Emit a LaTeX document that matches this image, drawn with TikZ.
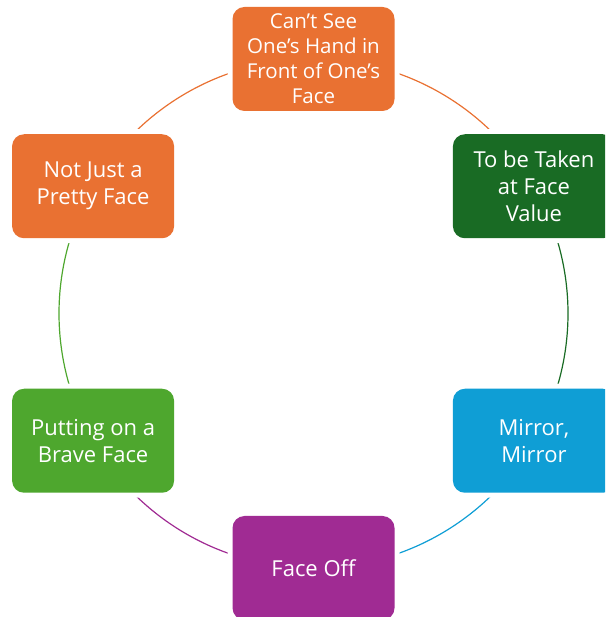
\documentclass[tikz,border=0pt]{standalone}
\usepackage{fontspec}
\setmainfont{Open Sans}
\definecolor{cOrange}{HTML}{E97132}
\definecolor{cDkGreen}{HTML}{196B24}
\definecolor{cBlue}{HTML}{0F9ED5}
\definecolor{cPurple}{HTML}{A02B93}
\definecolor{cGreen}{HTML}{4EA72E}
\tikzset{
  facebox/.style={rounded corners=12pt, minimum width=162pt, minimum height=104pt,
    inner sep=0pt, text=white, align=center, font=\fontsize{22}{27}\selectfont,
    preaction={draw=white, line width=10pt}},
  ring/.style={line width=1.2pt}
}
\begin{document}
\begin{tikzpicture}[x=1pt,y=1pt]
\useasboundingbox (0,0) rectangle (605,617);
\clip (0,0) rectangle (605,617);
\coordinate (c) at (313.5,303.5);
% arcs
\draw[ring,cOrange] (c) ++(90:254.5pt) arc[start angle=90,end angle=30,radius=254.5pt];
\draw[ring,cDkGreen] (c) ++(30:254.5pt) arc[start angle=30,end angle=-30,radius=254.5pt];
\draw[ring,cBlue] (c) ++(-30:254.5pt) arc[start angle=-30,end angle=-90,radius=254.5pt];
\draw[ring,cPurple] (c) ++(-90:254.5pt) arc[start angle=-90,end angle=-150,radius=254.5pt];
\draw[ring,cGreen] (c) ++(-150:254.5pt) arc[start angle=-150,end angle=-210,radius=254.5pt];
\draw[ring,cOrange] (c) ++(150:254.5pt) arc[start angle=150,end angle=90,radius=254.5pt];
% nodes
\path (c) ++(90:254.5pt) node[facebox, fill=cOrange, font=\fontsize{20.5}{25}\selectfont] (n1)
  {Can’t See\\One’s Hand in\\Front of One’s\\Face};
\path (c) ++(30:254.5pt) node[facebox, fill=cDkGreen] (n2) {To be Taken\\at Face\\Value};
\path (c) ++(-30:254.5pt) node[facebox, fill=cBlue] (n3) {Mirror,\\Mirror};
\path (c) ++(-90:254.5pt) node[facebox, fill=cPurple] (n4) {Face Off};
\path (c) ++(-150:254.5pt) node[facebox, fill=cGreen] (n5) {Putting on a\\Brave Face};
\path (c) ++(150:254.5pt) node[facebox, fill=cOrange] (n6) {Not Just a\\Pretty Face};
\end{tikzpicture}
\end{document}
